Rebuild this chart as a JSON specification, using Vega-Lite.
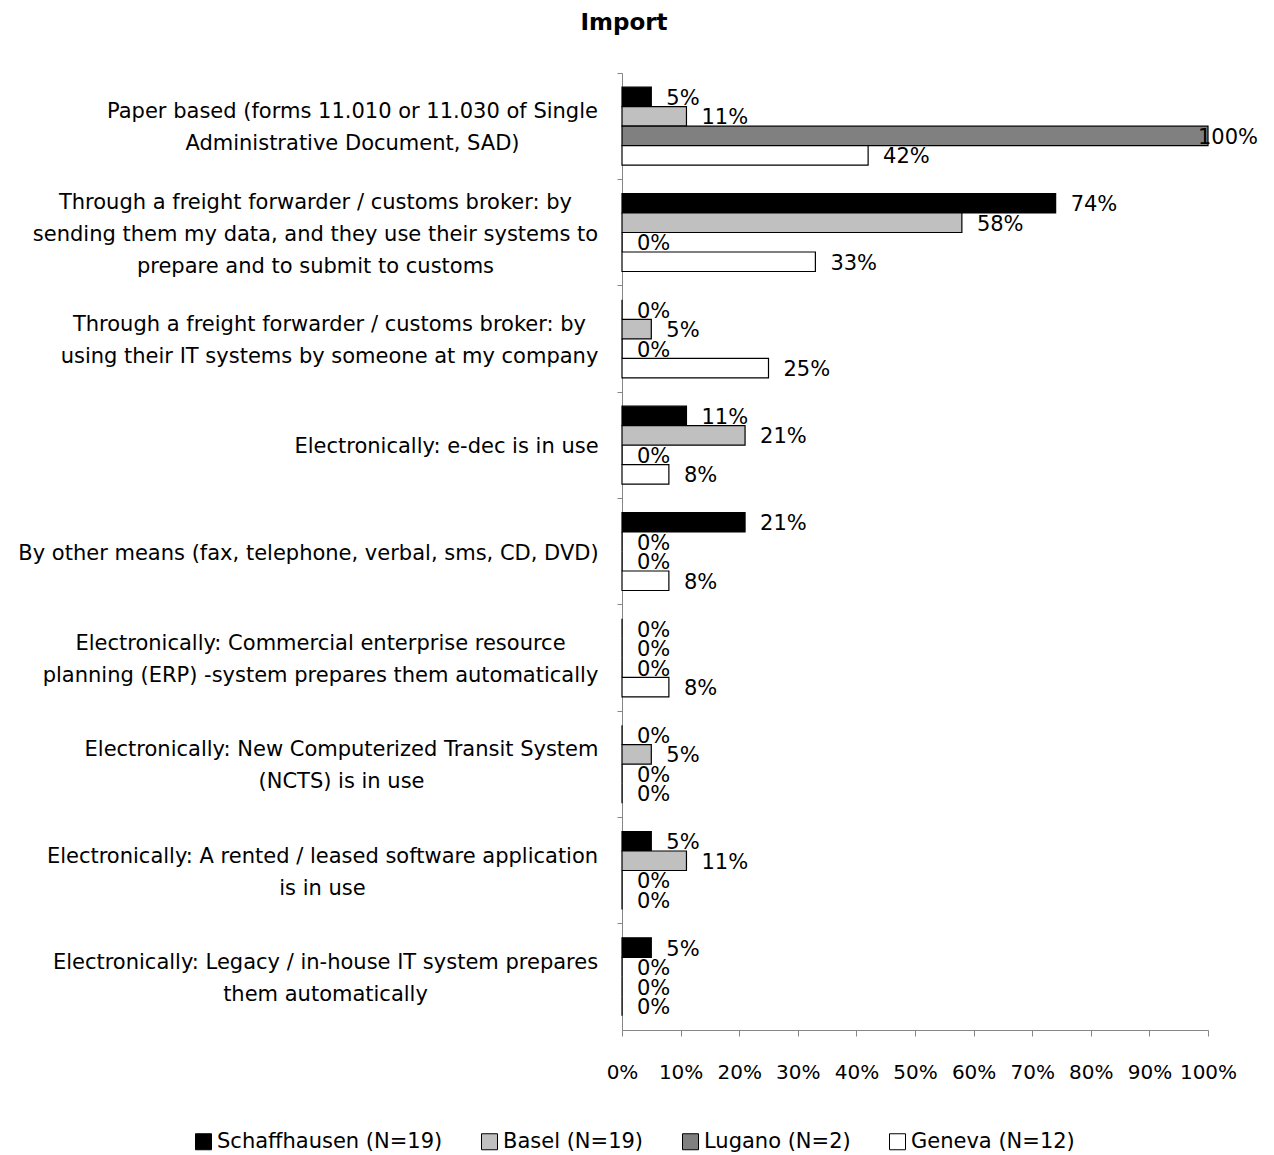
{
  "$schema": "https://vega.github.io/schema/vega-lite/v6.json",
  "autosize": "none",
  "width": 586,
  "height": 957,
  "padding": {"left": 622, "top": 73, "right": 66, "bottom": 125},
  "background": "white",
  "config": {"font": "DejaVu Sans", "view": {"stroke": null}},
  "title": {"text": "Import", "fontSize": 23, "fontWeight": "bold", "color": "black", "anchor": "middle", "dx": -291, "offset": 38},
  "data": {"values": [
    {"method": "Paper based (forms 11.010 or 11.030 of Single|Administrative Document, SAD)", "city": "Schaffhausen (N=19)", "share": 0.05},
    {"method": "Paper based (forms 11.010 or 11.030 of Single|Administrative Document, SAD)", "city": "Basel (N=19)", "share": 0.11},
    {"method": "Paper based (forms 11.010 or 11.030 of Single|Administrative Document, SAD)", "city": "Lugano (N=2)", "share": 1.0},
    {"method": "Paper based (forms 11.010 or 11.030 of Single|Administrative Document, SAD)", "city": "Geneva (N=12)", "share": 0.42},
    {"method": "Through a freight forwarder / customs broker: by|sending them my data, and they use their systems to|prepare and to submit to customs", "city": "Schaffhausen (N=19)", "share": 0.74},
    {"method": "Through a freight forwarder / customs broker: by|sending them my data, and they use their systems to|prepare and to submit to customs", "city": "Basel (N=19)", "share": 0.58},
    {"method": "Through a freight forwarder / customs broker: by|sending them my data, and they use their systems to|prepare and to submit to customs", "city": "Lugano (N=2)", "share": 0},
    {"method": "Through a freight forwarder / customs broker: by|sending them my data, and they use their systems to|prepare and to submit to customs", "city": "Geneva (N=12)", "share": 0.33},
    {"method": "Through a freight forwarder / customs broker: by|using their IT systems by someone at my company", "city": "Schaffhausen (N=19)", "share": 0},
    {"method": "Through a freight forwarder / customs broker: by|using their IT systems by someone at my company", "city": "Basel (N=19)", "share": 0.05},
    {"method": "Through a freight forwarder / customs broker: by|using their IT systems by someone at my company", "city": "Lugano (N=2)", "share": 0},
    {"method": "Through a freight forwarder / customs broker: by|using their IT systems by someone at my company", "city": "Geneva (N=12)", "share": 0.25},
    {"method": "Electronically: e-dec is in use", "city": "Schaffhausen (N=19)", "share": 0.11},
    {"method": "Electronically: e-dec is in use", "city": "Basel (N=19)", "share": 0.21},
    {"method": "Electronically: e-dec is in use", "city": "Lugano (N=2)", "share": 0},
    {"method": "Electronically: e-dec is in use", "city": "Geneva (N=12)", "share": 0.08},
    {"method": "By other means (fax, telephone, verbal, sms, CD, DVD)", "city": "Schaffhausen (N=19)", "share": 0.21},
    {"method": "By other means (fax, telephone, verbal, sms, CD, DVD)", "city": "Basel (N=19)", "share": 0},
    {"method": "By other means (fax, telephone, verbal, sms, CD, DVD)", "city": "Lugano (N=2)", "share": 0},
    {"method": "By other means (fax, telephone, verbal, sms, CD, DVD)", "city": "Geneva (N=12)", "share": 0.08},
    {"method": "Electronically: Commercial enterprise resource|planning (ERP) -system prepares them automatically", "city": "Schaffhausen (N=19)", "share": 0},
    {"method": "Electronically: Commercial enterprise resource|planning (ERP) -system prepares them automatically", "city": "Basel (N=19)", "share": 0},
    {"method": "Electronically: Commercial enterprise resource|planning (ERP) -system prepares them automatically", "city": "Lugano (N=2)", "share": 0},
    {"method": "Electronically: Commercial enterprise resource|planning (ERP) -system prepares them automatically", "city": "Geneva (N=12)", "share": 0.08},
    {"method": "Electronically: New Computerized Transit System|(NCTS) is in use", "city": "Schaffhausen (N=19)", "share": 0},
    {"method": "Electronically: New Computerized Transit System|(NCTS) is in use", "city": "Basel (N=19)", "share": 0.05},
    {"method": "Electronically: New Computerized Transit System|(NCTS) is in use", "city": "Lugano (N=2)", "share": 0},
    {"method": "Electronically: New Computerized Transit System|(NCTS) is in use", "city": "Geneva (N=12)", "share": 0},
    {"method": "Electronically: A rented / leased software application|is in use", "city": "Schaffhausen (N=19)", "share": 0.05},
    {"method": "Electronically: A rented / leased software application|is in use", "city": "Basel (N=19)", "share": 0.11},
    {"method": "Electronically: A rented / leased software application|is in use", "city": "Lugano (N=2)", "share": 0},
    {"method": "Electronically: A rented / leased software application|is in use", "city": "Geneva (N=12)", "share": 0},
    {"method": "Electronically: Legacy / in-house IT system prepares|them automatically", "city": "Schaffhausen (N=19)", "share": 0.05},
    {"method": "Electronically: Legacy / in-house IT system prepares|them automatically", "city": "Basel (N=19)", "share": 0},
    {"method": "Electronically: Legacy / in-house IT system prepares|them automatically", "city": "Lugano (N=2)", "share": 0},
    {"method": "Electronically: Legacy / in-house IT system prepares|them automatically", "city": "Geneva (N=12)", "share": 0}
  ]},
  "encoding": {
    "y": {
      "field": "method", "type": "nominal", "sort": null, "title": null,
      "scale": {"paddingInner": 0, "paddingOuter": 0},
      "axis": {
        "labelExpr": "split(datum.label, '|')",
        "labelFontSize": 21, "labelColor": "black", "labelAlign": "center",
        "labelBaseline": "middle",
        "labelOffset": {
          "condition": [
            {"test": "length(split(datum.value, '|')) == 3", "value": -30},
            {"test": "length(split(datum.value, '|')) == 2", "value": -14}
          ],
          "value": 2
        },
        "labelPadding": {
          "condition": [
            {"test": "indexof(datum.value, 'Paper based') == 0", "value": 265},
            {"test": "indexof(datum.value, 'sending them') > 0", "value": 302},
            {"test": "indexof(datum.value, 'using their IT') > 0", "value": 288},
            {"test": "indexof(datum.value, 'e-dec') > 0", "value": 171},
            {"test": "indexof(datum.value, 'By other means') == 0", "value": 309},
            {"test": "indexof(datum.value, '(ERP)') > 0", "value": 297},
            {"test": "indexof(datum.value, '(NCTS)') > 0", "value": 276},
            {"test": "indexof(datum.value, 'rented') > 0", "value": 295},
            {"test": "indexof(datum.value, 'Legacy') > 0", "value": 292}
          ],
          "value": 20
        },
        "labelLineHeight": 32, "labelLimit": 700,
        "bandPosition": 0, "tickSize": 5, "tickColor": "#868686",
        "domainColor": "#868686", "grid": false
      }
    },
    "yOffset": {
      "field": "city", "type": "nominal", "sort": null,
      "scale": {"paddingInner": 0, "paddingOuter": 0.726}
    },
    "x": {
      "field": "share", "type": "quantitative", "title": null,
      "scale": {"domain": [0, 1], "nice": false},
      "axis": {
        "values": [0, 0.1, 0.2, 0.3, 0.4, 0.5, 0.6, 0.7, 0.8, 0.9, 1.0],
        "format": ".0%", "labelFontSize": 20, "labelColor": "black",
        "labelOverlap": false, "labelFlush": false,
        "labelPadding": 26, "tickSize": 6, "tickColor": "#868686",
        "domainColor": "#868686", "grid": false
      }
    }
  },
  "layer": [
    {
      "mark": {"type": "bar", "stroke": "black", "strokeWidth": 1.2},
      "encoding": {
        "fill": {
          "field": "city", "type": "nominal",
          "scale": {
            "domain": ["Schaffhausen (N=19)", "Basel (N=19)", "Lugano (N=2)", "Geneva (N=12)"],
            "range": ["#000000", "#c0c0c0", "#808080", "#ffffff"]
          },
          "legend": {
            "title": null, "orient": "none", "legendX": -429, "legendY": 1058,
            "direction": "horizontal", "columns": 4, "columnPadding": 36,
            "symbolType": "square", "symbolSize": 256, "symbolStrokeColor": "black",
            "symbolStrokeWidth": 1, "labelFontSize": 21, "labelColor": "black",
            "labelOffset": 3, "labelLimit": 400
          }
        }
      }
    },
    {
      "transform": [{"filter": "datum.share < 1"}],
      "mark": {"type": "text", "align": "left", "baseline": "middle", "dx": 15, "dy": 2, "fontSize": 21, "color": "black"},
      "encoding": {"text": {"field": "share", "type": "quantitative", "format": ".0%"}}
    },
    {
      "transform": [{"filter": "datum.share >= 1"}],
      "mark": {"type": "text", "align": "left", "baseline": "middle", "dx": -10, "dy": 2, "fontSize": 21, "color": "black"},
      "encoding": {"text": {"field": "share", "type": "quantitative", "format": ".0%"}}
    }
  ]
}
